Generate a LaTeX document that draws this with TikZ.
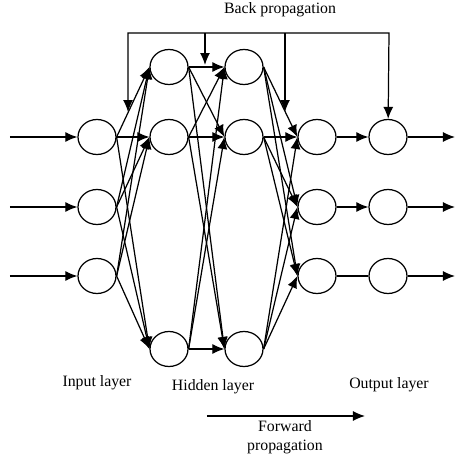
\documentclass[tikz,border=0pt]{standalone}
\usepackage{fontspec}
\setmainfont{Liberation Serif}
\usetikzlibrary{shapes.geometric,arrows.meta}
\tikzset{
  neuron/.style={draw,ellipse,minimum width=7.6mm,minimum height=7mm,inner sep=0pt},
  lbl/.style={font=\small,align=center}
}

\begin{document}
\begin{tikzpicture}[x=0.2mm,y=0.2mm,line width=0.7pt,>={Latex[length=2.4mm,width=2mm]}]
\useasboundingbox (0,0) rectangle (458,459);
% layers
\node[neuron] (i1) at (97,322) {};
\node[neuron] (i2) at (97,252) {};
\node[neuron] (i3) at (97,183) {};
\node[neuron] (ha1) at (169,392) {};
\node[neuron] (ha2) at (169,322) {};
\node[neuron] (ha3) at (169,110) {};
\node[neuron] (hb1) at (244,392) {};
\node[neuron] (hb2) at (244,322) {};
\node[neuron] (hb3) at (244,110) {};
\node[neuron] (oa1) at (317,322) {};
\node[neuron] (oa2) at (317,252) {};
\node[neuron] (oa3) at (317,183) {};
\node[neuron] (ob1) at (388,322) {};
\node[neuron] (ob2) at (388,252) {};
\node[neuron] (ob3) at (388,183) {};
% inputs and outputs
\foreach \r/\y in {1/322,2/252,3/183} {
  \coordinate (x\r) at (10,\y);
  \coordinate (y\r) at (455,\y);
  \draw[->] (x\r) -- (i\r);
  \draw[->] (ob\r) -- (y\r);
}
% full connections
\foreach \a in {i1,i2,i3} \foreach \b in {ha1,ha2,ha3} \draw[->] (\a.east) -- (\b.west);
\foreach \a in {ha1,ha2,ha3} \foreach \b in {hb1,hb2,hb3} \draw[->] (\a.east) -- (\b.west);
\foreach \a in {hb1,hb2,hb3} \foreach \b in {oa1,oa2,oa3} \draw[->] (\a.east) -- (\b.west);
\draw[->] (oa1) -- (ob1);
\draw[->] (oa2) -- (ob2);
\draw (oa3) -- (ob3);
% back propagation
\coordinate (bl) at (128,426);
\coordinate (br) at (389,426);
\coordinate (b1) at (128,347);
\coordinate (b2t) at (205,426);
\coordinate (b2) at (205,394);
\coordinate (b3t) at (285,426);
\coordinate (b3) at (285,347);
\draw[<->] (b1) -- (bl) -- (br) -- (ob1);
\draw[->] (b2t) -- (b2);
\draw[->] (b3t) -- (b3);
\node[lbl] (bp) at (280,449) {Back propagation};
% layer names
\node[lbl] (li) at (97,76) {Input layer};
\node[lbl] (lh) at (213,72) {Hidden layer};
\node[lbl] (lo) at (389,74) {Output layer};
% forward propagation
\coordinate (f1) at (207,43);
\coordinate (f2) at (365,43);
\draw[->] (f1) -- (f2);
\node[lbl] (fp) at (285,21.5) {Forward\\propagation};
\end{tikzpicture}
\end{document}
